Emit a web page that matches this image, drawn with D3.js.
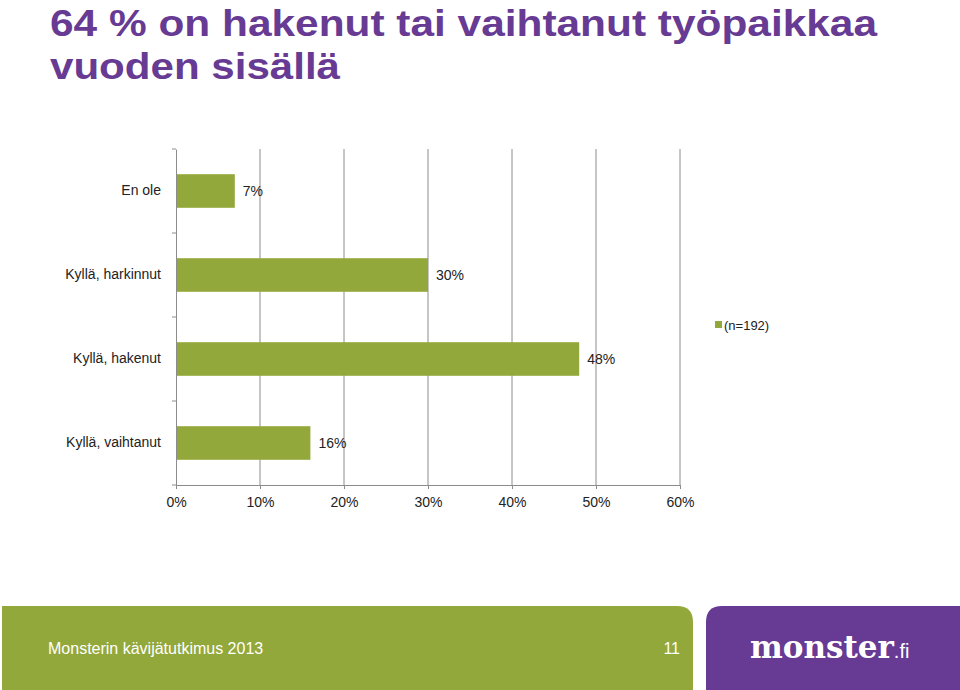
<!DOCTYPE html>
<html><head><meta charset="utf-8">
<script src="https://cdn.jsdelivr.net/npm/d3@7"></script>
<style>body{margin:0;background:#fff}svg{display:block}</style>
</head><body>
<script>
const categories = ["En ole", "Kyllä, harkinnut", "Kyllä, hakenut", "Kyllä, vaihtanut"];
const values = [7, 30, 48, 16];
const tickValues = [0, 10, 20, 30, 40, 50, 60];
const seriesName = "(n=192)";
const titleLines = ["64 % on hakenut tai vaihtanut työpaikkaa", "vuoden sisällä"];
const footerText = "Monsterin kävijätutkimus 2013";
const pageNumber = "11";

const W = 960, H = 690;
const green = "#93a83a", purple = "#673a93";
const svg = d3.select("body").append("svg").attr("width", W).attr("height", H);

// Title
svg.append("text").attr("x", 50).attr("y", 36).text(titleLines[0])
  .attr("font-family", "Liberation Sans, Arial, sans-serif").attr("font-weight", "bold")
  .attr("font-size", 37).attr("fill", purple)
  .attr("textLength", 827).attr("lengthAdjust", "spacingAndGlyphs");
svg.append("text").attr("x", 50).attr("y", 79).text(titleLines[1])
  .attr("font-family", "Liberation Sans, Arial, sans-serif").attr("font-weight", "bold")
  .attr("font-size", 37).attr("fill", purple)
  .attr("textLength", 290).attr("lengthAdjust", "spacingAndGlyphs");

// Chart
const x = d3.scaleLinear().domain([0, 60]).range([176, 680]);
const y = d3.scaleBand().domain(categories).range([149, 485]).paddingInner(0.6).paddingOuter(0.3);
const bandY = d3.scaleBand().domain(categories).range([149, 485]);
const font = "Liberation Sans, Arial, sans-serif";
const grey = "#8c8c8c";

// gridlines
svg.append("g").selectAll("line").data(tickValues.slice(1)).join("line")
  .attr("x1", d => x(d)).attr("x2", d => x(d)).attr("y1", 149).attr("y2", 485)
  .attr("stroke", grey).attr("stroke-width", 1);

// bars
svg.append("g").selectAll("rect").data(values).join("rect")
  .attr("x", x(0)).attr("y", (d, i) => y(categories[i]))
  .attr("width", d => x(d) - x(0)).attr("height", y.bandwidth())
  .attr("fill", green);

// value labels
svg.append("g").selectAll("text").data(values).join("text")
  .attr("x", d => x(d) + 8).attr("y", (d, i) => y(categories[i]) + y.bandwidth() / 2 + 5)
  .text(d => d + "%").attr("font-family", font).attr("font-size", 14).attr("fill", "#222");

// x axis
const xAxis = svg.append("g").attr("transform", "translate(0,485)")
  .call(d3.axisBottom(x).tickValues(tickValues).tickFormat(d => d + "%").tickSize(4).tickPadding(8));
xAxis.select(".domain").attr("stroke", grey);
xAxis.selectAll(".tick line").attr("stroke", grey);
xAxis.selectAll("text").attr("font-family", font).attr("font-size", 14).attr("fill", "#222");

// y axis
const yAxis = svg.append("g").attr("transform", "translate(176,0)")
  .call(d3.axisLeft(y).tickSize(0).tickPadding(15));
yAxis.select(".domain").attr("stroke", grey);
yAxis.selectAll("text").attr("font-family", font).attr("font-size", 14).attr("fill", "#222");
// band boundary ticks
svg.append("g").selectAll("line").data(categories.concat([null])).join("line")
  .attr("x1", 172).attr("x2", 176)
  .attr("y1", (d, i) => 149 + i * bandY.bandwidth()).attr("y2", (d, i) => 149 + i * bandY.bandwidth())
  .attr("stroke", grey);

// legend
svg.append("rect").attr("x", 715).attr("y", 321).attr("width", 7).attr("height", 7).attr("fill", green);
svg.append("text").attr("x", 724).attr("y", 330).text(seriesName)
  .attr("font-family", font).attr("font-size", 13).attr("fill", "#222");

// footer
function roundedPath(x0, y0, w, h, r, corner) {
  if (corner === "tr") return `M${x0},${y0}H${x0+w-r}Q${x0+w},${y0} ${x0+w},${y0+r}V${y0+h}H${x0}Z`;
  return `M${x0+r},${y0}H${x0+w}V${y0+h}H${x0}V${y0+r}Q${x0},${y0} ${x0+r},${y0}Z`;
}
svg.append("path").attr("d", roundedPath(2, 606, 691, 84, 16, "tr")).attr("fill", green);
svg.append("path").attr("d", roundedPath(706, 606, 254, 84, 16, "tl")).attr("fill", purple);
svg.append("text").attr("x", 48).attr("y", 654).text(footerText)
  .attr("font-family", font).attr("font-size", 16).attr("fill", "#fff");
svg.append("text").attr("x", 680).attr("y", 654).attr("text-anchor", "end").text(pageNumber)
  .attr("font-family", font).attr("font-size", 16).attr("fill", "#fff");
const logo = svg.append("text").attr("x", 750).attr("y", 658)
  .attr("font-family", "DejaVu Serif, serif").attr("font-weight", "bold").attr("fill", "#fff");
logo.append("tspan").text("monster").attr("font-size", 31);
logo.append("tspan").text(".fi").attr("font-size", 20).attr("font-family", font).attr("font-weight", "normal");
</script>
</body></html>
